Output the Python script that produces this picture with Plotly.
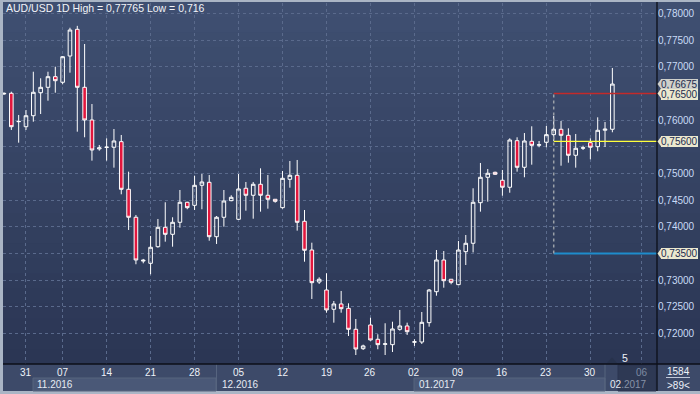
import plotly.graph_objects as go

# ---------------- data ----------------
candle_index = list(range(84))
open_ = [0.7649, 0.76502, 0.75970, 0.75876, 0.76082, 0.76513, 0.76614, 0.76813, 0.76708, 0.77200,
         0.77700, 0.76614, 0.76002, 0.75460, 0.75490, 0.75491, 0.75596, 0.74704, 0.74180, 0.73360,
         0.73318, 0.73629, 0.73992, 0.73861, 0.74086, 0.74461, 0.74404, 0.74779, 0.74835, 0.73816,
         0.74180, 0.74491, 0.74142, 0.74723, 0.74592, 0.74798, 0.74592, 0.74517, 0.74360, 0.74891,
         0.74966, 0.74105, 0.73567, 0.72968, 0.72818, 0.72457, 0.72556, 0.72475, 0.72082, 0.71719,
         0.72163, 0.71895, 0.71800, 0.71794, 0.72082, 0.72144, 0.71840, 0.71844, 0.72206, 0.72786,
         0.73380, 0.73019, 0.72918, 0.73536, 0.73693, 0.74453, 0.74929, 0.75022, 0.74873, 0.74742,
         0.75614, 0.75116, 0.75603, 0.75530, 0.75584, 0.75727, 0.75828, 0.75715, 0.75341, 0.75475,
         0.75577, 0.75502, 0.75810, 0.75828]
high = [0.7652, 0.76532, 0.76096, 0.76189, 0.76906, 0.76783, 0.76906, 0.77000, 0.77200, 0.77730,
        0.77765, 0.77425, 0.76301, 0.75534, 0.75659, 0.75833, 0.75721, 0.75034, 0.74223, 0.73400,
        0.73830, 0.74148, 0.74461, 0.74180, 0.74691, 0.74470, 0.74959, 0.74991, 0.74972, 0.74204,
        0.74691, 0.74592, 0.74991, 0.74841, 0.74841, 0.75097, 0.74972, 0.74520, 0.75047, 0.75234,
        0.75253, 0.74316, 0.73704, 0.73056, 0.73131, 0.72612, 0.72800, 0.72569, 0.72275, 0.71794,
        0.72299, 0.71989, 0.72195, 0.72224, 0.72444, 0.72206, 0.71895, 0.72406, 0.72837, 0.73567,
        0.73548, 0.73020, 0.73736, 0.73848, 0.74723, 0.75197, 0.75084, 0.75034, 0.75066, 0.75659,
        0.75678, 0.75758, 0.75884, 0.75609, 0.75890, 0.76077, 0.75983, 0.75846, 0.75740, 0.75521,
        0.75659, 0.76052, 0.75964, 0.76976]
low = [0.7647, 0.75815, 0.75577, 0.75815, 0.75970, 0.76114, 0.76363, 0.76513, 0.76670, 0.76888,
       0.75783, 0.75678, 0.75240, 0.75427, 0.75240, 0.75109, 0.74610, 0.73942, 0.73300, 0.73318,
       0.73112, 0.73610, 0.73723, 0.73629, 0.73985, 0.74330, 0.74316, 0.74330, 0.73741, 0.73680,
       0.74004, 0.74480, 0.74130, 0.74303, 0.74153, 0.74285, 0.74341, 0.74453, 0.74341, 0.74734,
       0.73929, 0.73348, 0.72650, 0.72931, 0.72393, 0.72206, 0.72393, 0.71957, 0.71600, 0.71694,
       0.71870, 0.71708, 0.71600, 0.71657, 0.72056, 0.71976, 0.71770, 0.71807, 0.72131, 0.72711,
       0.72861, 0.72925, 0.72910, 0.73286, 0.73521, 0.74285, 0.74472, 0.74972, 0.74584, 0.74640,
       0.75034, 0.74929, 0.75165, 0.75491, 0.75491, 0.75609, 0.75146, 0.75202, 0.75109, 0.75440,
       0.75266, 0.75416, 0.75496, 0.75772]
close = [0.7650, 0.75876, 0.75975, 0.76082, 0.76521, 0.76614, 0.76813, 0.76738, 0.77187, 0.77687,
         0.76614, 0.76002, 0.75440, 0.75480, 0.75492, 0.75609, 0.74704, 0.74180, 0.73380, 0.73375,
         0.73618, 0.73992, 0.73861, 0.74086, 0.74461, 0.74360, 0.74779, 0.74841, 0.73816, 0.74180,
         0.74485, 0.74554, 0.74710, 0.74592, 0.74798, 0.74592, 0.74517, 0.74479, 0.74910, 0.74966,
         0.74086, 0.73562, 0.72955, 0.73019, 0.72444, 0.72556, 0.72468, 0.72082, 0.71713, 0.71770,
         0.71882, 0.71794, 0.71810, 0.72088, 0.72144, 0.72037, 0.71848, 0.72213, 0.72818, 0.73380,
         0.72992, 0.72962, 0.73567, 0.73693, 0.74461, 0.74929, 0.75004, 0.74985, 0.74742, 0.75627,
         0.75116, 0.75609, 0.75528, 0.75538, 0.75727, 0.75828, 0.75715, 0.75341, 0.75472, 0.75480,
         0.75491, 0.75809, 0.75830, 0.76675]

day_tick_index = [3, 8, 14, 20, 26, 32, 38, 44, 50, 56, 62, 68, 74, 80, 87]
day_tick_label = ["31", "07", "14", "21", "28", "05", "12", "19", "26", "02", "09", "16", "23", "30", "06"]
month_labels = ["11.2016", "12.2016", "01.2017", "02.2017"]
price_ticks = [0.720, 0.725, 0.730, 0.735, 0.740, 0.745, 0.750, 0.755, 0.760, 0.765, 0.770, 0.775, 0.780]

level_start_index = 75
red_level = 0.765
yellow_level = 0.756
blue_level = 0.735
last_price = 0.76675
title_text = "AUD/USD 1D High = 0,77765 Low = 0,716"


def fmt(v):
    return ("%.5f" % v).replace(".", ",")


# labels hidden behind the marker boxes are left blank
covered = {fmt(red_level), fmt(blue_level), fmt(0.755)}
price_tick_text = ["" if fmt(v) in covered else fmt(v) for v in price_ticks]

# ---------------- geometry helpers (layout only) ----------------
W, H = 700, 394
L, R, T, B = 3, 657, 3, 364


def px(X):
    return (X - L) / (R - L)


def py(Y):
    return (B - Y) / (B - T)


FONT = "Liberation Sans, Arial, sans-serif"

fig = go.Figure()
fig.add_trace(go.Candlestick(
    x=candle_index, open=open_, high=high, low=low, close=close,
    increasing=dict(line=dict(color="#ffffff", width=1), fillcolor="rgba(0,0,0,0)"),
    decreasing=dict(line=dict(color="#ffffff", width=1), fillcolor="#e2163d"),
    whiskerwidth=0, showlegend=False, hoverinfo="skip",
))

shapes = []
# gradient background
N = 24
c0 = (63, 79, 113)
c1 = (43, 54, 84)
for k in range(N):
    t = k / (N - 1)
    col = tuple(int(round(c0[j] + (c1[j] - c0[j]) * t)) for j in range(3))
    y0 = 2 + k * (B - 2) / N
    y1 = 2 + (k + 1) * (B - 2) / N
    shapes.append(dict(type="rect", xref="paper", yref="paper", layer="below",
                       x0=px(3), x1=px(700), y0=py(y1) - 0.002, y1=py(y0),
                       line=dict(width=0), fillcolor="rgb(%d,%d,%d)" % col))
# bottom panel
shapes.append(dict(type="rect", xref="paper", yref="paper", layer="below",
                   x0=px(3), x1=px(700), y0=py(391), y1=py(364),
                   line=dict(width=0), fillcolor="#3d4a69"))
# month bands
for xa, xb in [(33, 216), (414, 605)]:
    shapes.append(dict(type="rect", xref="paper", yref="paper", layer="below",
                       x0=px(xa), x1=px(xb), y0=py(391), y1=py(378),
                       line=dict(width=1, color="#56647f"), fillcolor="#4a5877"))
for xs in (216.5, 605):
    shapes.append(dict(type="line", xref="paper", yref="paper", layer="below",
                       x0=px(xs), x1=px(xs), y0=py(391), y1=py(364),
                       line=dict(width=1, color="#56647f")))
# dark scroll box
shapes.append(dict(type="rect", xref="paper", yref="paper", layer="above",
                   x0=px(618), x1=px(656), y0=py(391), y1=py(365),
                   line=dict(width=1, color="#2a3550"), fillcolor="rgba(34,44,68,0.55)"))
# level lines
shapes.append(dict(type="line", xref="x", yref="y", layer="above",
                   x0=level_start_index, x1=89.2, y0=red_level, y1=red_level,
                   line=dict(color="#c42a2a", width=1.5)))
shapes.append(dict(type="line", xref="x", yref="y", layer="above",
                   x0=level_start_index, x1=89.2, y0=yellow_level, y1=yellow_level,
                   line=dict(color="#ffff3c", width=1.2)))
shapes.append(dict(type="line", xref="x", yref="y", layer="above",
                   x0=level_start_index, x1=89.2, y0=blue_level, y1=blue_level,
                   line=dict(color="#1e8ccc", width=2)))
shapes.append(dict(type="line", xref="x", yref="y", layer="above",
                   x0=level_start_index, x1=level_start_index, y0=blue_level, y1=red_level,
                   line=dict(color="#9aa0a8", width=1.5, dash="dot")))
# black separators
shapes.append(dict(type="line", xref="paper", yref="paper", layer="above",
                   x0=px(657), x1=px(657), y0=py(391), y1=py(2),
                   line=dict(color="#0c0f18", width=1.3)))
shapes.append(dict(type="line", xref="paper", yref="paper", layer="above",
                   x0=px(3), x1=px(700), y0=py(364), y1=py(364),
                   line=dict(color="#0c0f18", width=1.3)))
# underline for 1584
shapes.append(dict(type="line", xref="paper", yref="paper", layer="above",
                   x0=px(666), x1=px(690), y0=py(377.5), y1=py(377.5),
                   line=dict(color="#c0c8d8", width=1)))
# small triangle marker
shapes.append(dict(type="path", xref="paper", yref="paper", layer="above",
                   path="M %f %f L %f %f L %f %f Z" % (px(607), py(363), px(612), py(357.5), px(617), py(363)),
                   line=dict(width=0), fillcolor="#27324c"))
# arrow tips for price boxes
dy = 0.0009
box_levels = [(last_price, "#cfd0cb", 0), (red_level, "#ebe8cf", -1),
              (yellow_level, "#ebe8cf", 0), (blue_level, "#ebe8cf", 0)]
for lv, col, sh in box_levels:
    shapes.append(dict(type="path", xref="paper", yref="y", layer="above",
                       path="M %f %f L %f %f L %f %f Z" % (px(657.5), lv, px(661), lv + dy, px(661), lv - dy),
                       line=dict(width=0), fillcolor=col))

ann = []
ann.append(dict(text=title_text, xref="paper", yref="paper", x=px(4), y=py(8),
                xanchor="left", yanchor="middle", showarrow=False,
                font=dict(family=FONT, size=10.5, color="#f2f4f8")))
for idx, lab in zip(day_tick_index, day_tick_label):
    colr = "#7d8aa2" if lab == "06" else "#eef2f8"
    ann.append(dict(text=lab, xref="x", yref="paper", x=idx, y=py(372),
                    xanchor="center", yanchor="middle", showarrow=False,
                    font=dict(family=FONT, size=10, color=colr)))
month_x = [35, 220, 417, 608]
for mx, ml in zip(month_x, month_labels):
    txt = ml
    if ml == "02.2017":
        txt = "02<span style='color:#8792a8'>.2017</span>"
    ann.append(dict(text=txt, xref="paper", yref="paper", x=px(mx), y=py(384.5),
                    xanchor="left", yanchor="middle", showarrow=False,
                    font=dict(family=FONT, size=10, color="#e6ebf3")))
# price boxes
for lv, col, sh in box_levels:
    ann.append(dict(text=fmt(lv), xref="paper", yref="y",
                    x=px(660.5), y=lv, yshift=sh, xanchor="left", yanchor="middle", showarrow=False,
                    bgcolor=col, borderpad=0, borderwidth=0,
                    font=dict(family=FONT, size=10, color="#1d2b4e")))
ann.append(dict(text="5", xref="paper", yref="paper", x=px(620), y=py(358),
                xanchor="left", yanchor="middle", showarrow=False,
                font=dict(family=FONT, size=10.5, color="#eef2f8")))
ann.append(dict(text="1584", xref="paper", yref="paper", x=px(678), y=py(371),
                xanchor="center", yanchor="middle", showarrow=False,
                font=dict(family=FONT, size=10, color="#eef2f8")))
ann.append(dict(text="&gt;89&lt;", xref="paper", yref="paper", x=px(678), y=py(385),
                xanchor="center", yanchor="middle", showarrow=False,
                font=dict(family=FONT, size=10, color="#eef2f8")))

fig.update_layout(
    width=W, height=H,
    margin=dict(l=L, r=W - R, t=T, b=H - B, autoexpand=False),
    paper_bgcolor="#aab5c5",
    plot_bgcolor="rgba(0,0,0,0)",
    shapes=shapes, annotations=ann,
    showlegend=False,
    xaxis=dict(range=[-0.136, 89.09], tickvals=day_tick_index, showticklabels=False,
               showgrid=True, gridcolor="#5a6a8c", griddash="3px,3px", gridwidth=1,
               zeroline=False, showline=False, ticks="", rangeslider=dict(visible=False),
               fixedrange=True, automargin=False),
    yaxis=dict(range=[0.71432, 0.78193], side="right", tickvals=price_ticks, ticktext=price_tick_text,
               showgrid=True, gridcolor="#5a6a8c", griddash="3px,3px", gridwidth=1,
               zeroline=False, showline=False, ticks="", automargin=False,
               tickfont=dict(family=FONT, size=10, color="#c9dbf6"), fixedrange=True),
)

fig.write_html("out.html", config={"displayModeBar": False},
               post_script="document.body.style.margin='0';document.body.style.padding='0';"
                           "document.body.style.overflow='hidden';")
